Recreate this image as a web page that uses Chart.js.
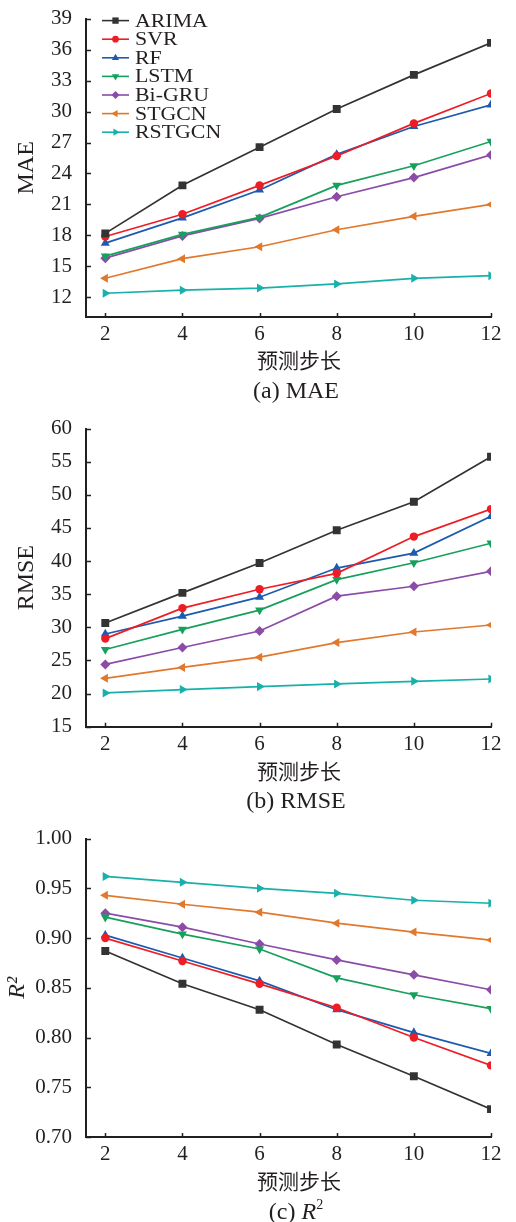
<!DOCTYPE html>
<html lang="zh">
<head>
<meta charset="utf-8">
<title>不同预测步长下各模型误差对比</title>
<script src="https://cdn.jsdelivr.net/npm/chart.js@4.4.1/dist/chart.umd.min.js"></script>
<style>
  html,body{margin:0;padding:0;background:#fff;}
  #page{position:relative;width:516px;height:1222px;overflow:hidden;}
  .box{position:absolute;left:0;width:516px;height:375px;}
  .xt{position:absolute;left:199px;width:200px;text-align:center;
      font-family:"Noto Sans CJK SC","Noto Sans CJK JP",sans-serif;font-size:21px;line-height:26px;color:#231f20;}
  .cap{position:absolute;left:196px;width:200px;text-align:center;
       font-family:"Liberation Serif","Times New Roman",serif;font-size:24px;line-height:26px;color:#231f20;}
  .cap sup{font-size:14px;vertical-align:10px;line-height:0;}
</style>
</head>
<body>
<div id="page">
  <div class="box" style="top:0"><canvas id="chart-mae" width="516" height="375"></canvas></div>
  <div class="xt" style="top:346px">预测步长</div>
  <div class="cap" style="top:377px">(a) MAE</div>
  <div class="box" style="top:410px"><canvas id="chart-rmse" width="516" height="375"></canvas></div>
  <div class="xt" style="top:757px">预测步长</div>
  <div class="cap" style="top:787px">(b) RMSE</div>
  <div class="box" style="top:820px"><canvas id="chart-r2" width="516" height="375"></canvas></div>
  <div class="xt" style="top:1167px">预测步长</div>
  <div class="cap" style="top:1198px">(c) <i>R</i><sup>2</sup></div>
</div>

<script>
// 预测步长与模型
const steps  = [2, 4, 6, 8, 10, 12];
const models = ['ARIMA', 'SVR', 'RF', 'LSTM', 'Bi-GRU', 'STGCN', 'RSTGCN'];

// MAE
const maeArima  = [18.2, 22.85, 26.55, 30.25, 33.55, 36.65];
const maeSvr    = [17.9, 20.05, 22.85, 25.7, 28.85, 31.75];
const maeRf     = [17.25, 19.7, 22.4, 25.85, 28.55, 30.65];
const maeLstm   = [16.0, 18.1, 19.75, 22.85, 24.75, 27.1];
const maeBiGru  = [15.8, 17.95, 19.65, 21.75, 23.6, 25.8];
const maeStgcn  = [13.85, 15.75, 16.9, 18.55, 19.85, 21.0];
const maeRstgcn = [12.4, 12.7, 12.9, 13.3, 13.85, 14.1];

// RMSE
const rmseArima  = [30.65, 35.2, 39.7, 44.65, 48.95, 55.75];
const rmseSvr    = [28.3, 32.9, 35.75, 38.15, 43.7, 47.85];
const rmseRf     = [29.0, 31.7, 34.55, 38.95, 41.2, 46.75];
const rmseLstm   = [26.65, 29.7, 32.6, 37.2, 39.75, 42.7];
const rmseBiGru  = [24.4, 26.95, 29.45, 34.7, 36.2, 38.45];
const rmseStgcn  = [22.3, 23.95, 25.5, 27.7, 29.3, 30.35];
const rmseRstgcn = [20.1, 20.6, 21.05, 21.45, 21.85, 22.2];

// R^2
const r2Arima  = [0.887, 0.854, 0.828, 0.793, 0.761, 0.728];
const r2Svr    = [0.900, 0.877, 0.854, 0.830, 0.800, 0.772];
const r2Rf     = [0.903, 0.880, 0.857, 0.828, 0.805, 0.784];
const r2Lstm   = [0.921, 0.904, 0.889, 0.860, 0.843, 0.829];
const r2BiGru  = [0.925, 0.911, 0.894, 0.878, 0.863, 0.848];
const r2Stgcn  = [0.943, 0.934, 0.926, 0.915, 0.906, 0.898];
const r2Rstgcn = [0.962, 0.956, 0.950, 0.945, 0.938, 0.935];

// 纵轴刻度
const maeTicks  = [12, 15, 18, 21, 24, 27, 30, 33, 36, 39];
const rmseTicks = [15, 20, 25, 30, 35, 40, 45, 50, 55, 60];
const r2Ticks   = [0.70, 0.75, 0.80, 0.85, 0.90, 0.95, 1.00];

const SERIF = '"Liberation Serif","Times New Roman",serif';
const INK   = '#231f20';

// 线色与标记
const looks = [
  {color:'#333333', point:'rect',     r:5.6, rot:0},
  {color:'#ee1d25', point:'circle',   r:4.2, rot:0},
  {color:'#1c5bb0', point:'triangle', r:5.2, rot:0},
  {color:'#16a05c', point:'triangle', r:5.2, rot:180},
  {color:'#8b4ca8', point:'rectRot',  r:5.0, rot:0},
  {color:'#e2782c', point:'triangle', r:5.2, rot:270},
  {color:'#17b0aa', point:'triangle', r:5.2, rot:90}
];

// 刻度线朝内
const tickMarks = {
  id:'tickMarks',
  afterDatasetsDraw(chart){
    const {ctx, chartArea:{left,bottom}, scales:{x,y}} = chart;
    ctx.save();
    ctx.strokeStyle = INK; ctx.lineWidth = 1.5;
    ctx.beginPath();
    y.ticks.forEach(t=>{
      const py = Math.round(y.getPixelForValue(t.value)) + 0.5;
      ctx.moveTo(left, py); ctx.lineTo(left + 5, py);
    });
    x.ticks.forEach(t=>{
      const px = Math.round(x.getPixelForValue(t.value)) + 0.5;
      ctx.moveTo(px, bottom); ctx.lineTo(px, bottom - 4);
    });
    ctx.stroke();
    ctx.restore();
  }
};

// 图内竖排图例
const innerLegend = {
  id:'innerLegend',
  afterDraw(chart, args, opts){
    if (!opts.show) return;
    const {ctx, chartArea:{left,top}} = chart;
    chart.data.datasets.forEach((ds,i)=>{
      const cy = top + 2 + i*18.6;
      const x0 = left + 16, x1 = left + 43;
      ctx.save();
      ctx.strokeStyle = ds.borderColor; ctx.lineWidth = 1.6;
      ctx.beginPath(); ctx.moveTo(x0, cy); ctx.lineTo(x1, cy); ctx.stroke();
      ctx.fillStyle = ds.borderColor;
      Chart.helpers.drawPoint(ctx, {
        pointStyle: ds.pointStyle, radius: ds.pointRadius*0.8,
        rotation: ds.pointRotation||0, borderWidth: 0
      }, (x0+x1)/2, cy);
      ctx.fillStyle = INK;
      ctx.font = '19px ' + SERIF;
      ctx.textBaseline = 'middle';
      ctx.translate(x1 + 6, cy + 1);
      ctx.scale(1.15, 1);
      ctx.fillText(ds.label, 0, 0);
      ctx.restore();
    });
  }
};

function makeChart(id, series, yMin, yMax, yTicks, yTitle, fmt, opt){
  const datasets = series.map((vals,i)=>({
    label: models[i],
    data: steps.map((s,k)=>({x:s, y:vals[k]})),
    borderColor: looks[i].color,
    backgroundColor: looks[i].color,
    borderWidth: 1.7,
    pointStyle: looks[i].point,
    pointRadius: looks[i].r,
    pointRotation: looks[i].rot,
    pointBorderWidth: 0,
    tension: 0,
    clip: 0
  }));

  return new Chart(document.getElementById(id), {
    type:'line',
    data:{ datasets },
    plugins:[tickMarks, innerLegend],
    options:{
      responsive:false,
      animation:false,
      devicePixelRatio:1,
      layout:{ padding:{top:opt.padTop, right:25, left:0, bottom:0} },
      plugins:{
        legend:{display:false},
        tooltip:{enabled:false},
        innerLegend:{show:!!opt.legend}
      },
      scales:{
        x:{
          type:'linear', min:1.5, max:12,
          afterBuildTicks: s=>{ s.ticks = steps.map(v=>({value:v})); },
          afterFit: s=>{ s.height = opt.xHeight; },
          grid:{display:false},
          border:{display:true, color:INK, width:2},
          ticks:{font:{family:SERIF, size:21}, color:INK, padding:-3, maxRotation:0}
        },
        y:{
          min:yMin, max:yMax,
          afterBuildTicks: s=>{ s.ticks = yTicks.map(v=>({value:v})); },
          afterFit: s=>{ s.width = 86; },
          grid:{display:false},
          border:{display:true, color:INK, width:2},
          ticks:{font:{family:SERIF, size:21}, color:INK, padding:6, callback:fmt},
          title:{display:true, text:yTitle, color:INK,
                 font:{family:SERIF, size:24, style:opt.italic?'italic':'normal'},
                 padding:{top:opt.yTitlePad, bottom:0}}
        }
      }
    }
  });
}

makeChart('chart-mae',
  [maeArima, maeSvr, maeRf, maeLstm, maeBiGru, maeStgcn, maeRstgcn],
  10.1, 39, maeTicks, 'MAE', v=>String(v),
  {padTop:13, xHeight:58, yTitlePad:12, legend:true});

makeChart('chart-rmse',
  [rmseArima, rmseSvr, rmseRf, rmseLstm, rmseBiGru, rmseStgcn, rmseRstgcn],
  15, 60, rmseTicks, 'RMSE', v=>String(v),
  {padTop:17.7, xHeight:58.3, yTitlePad:12});

makeChart('chart-r2',
  [r2Arima, r2Svr, r2Rf, r2Lstm, r2BiGru, r2Stgcn, r2Rstgcn],
  0.70, 1.00, r2Ticks, 'R²', v=>v.toFixed(2),
  {padTop:16.7, xHeight:58, yTitlePad:3, italic:true});
</script>
</body>
</html>
